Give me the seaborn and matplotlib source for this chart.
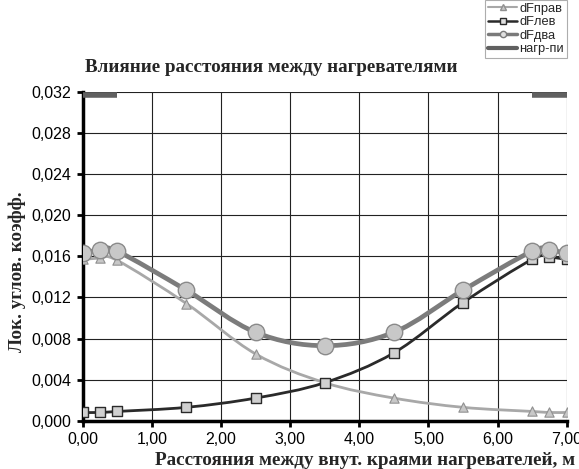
import numpy as np
import matplotlib
matplotlib.use("Agg")
import matplotlib.pyplot as plt
import seaborn as sns
from matplotlib.path import Path
from matplotlib.patches import PathPatch
from matplotlib.lines import Line2D
from matplotlib.ticker import FuncFormatter

# Данные
x_pos = [0.0, 0.25, 0.5, 1.5, 2.5, 3.5, 4.5, 5.5, 6.5, 6.75, 7.0]
dF_prav = [0.0157, 0.0158, 0.0156, 0.0114, 0.0065, 0.0037, 0.0022, 0.0013, 0.0009, 0.0008, 0.0008]
dF_lev = [0.0008, 0.0008, 0.0009, 0.0013, 0.0022, 0.0037, 0.0066, 0.0115, 0.0157, 0.0159, 0.0157]
dF_dva = [0.0163, 0.0166, 0.0165, 0.0127, 0.0086, 0.0073, 0.0086, 0.0127, 0.0165, 0.0166, 0.0163]
nagr_levy = [0.0, 0.5]
nagr_pravy = [6.5, 7.0]
nagr_y = 0.0317

sns.set_theme(style="white")
plt.rcParams['font.family'] = ['Liberation Sans', 'DejaVu Sans']


def gladkayaLiniya(ax, xs, ys, **kw):
    # сглаженная линия как в Excel (кривые Безье через точки)
    pts = np.column_stack([xs, ys])
    n = len(pts)
    verts = [pts[0]]
    codes = [Path.MOVETO]
    for i in range(n - 1):
        p0 = pts[max(i - 1, 0)]
        p1 = pts[i]
        p2 = pts[i + 1]
        p3 = pts[min(i + 2, n - 1)]
        c1 = p1 + (p2 - p0) / 6.0
        c2 = p2 - (p3 - p1) / 6.0
        verts += [c1, c2, p2]
        codes += [Path.CURVE4] * 3
    ax.add_patch(PathPatch(Path(verts, codes), fill=False, capstyle='round', **kw))


fig = plt.figure(figsize=(5.79, 4.69), dpi=100)
ax = fig.add_axes([0.1428, 0.103, 0.836, 0.701])

# нагреватели
ax.plot(nagr_levy, [nagr_y, nagr_y], color='#606060', lw=4, solid_capstyle='butt', zorder=3)
ax.plot(nagr_pravy, [nagr_y, nagr_y], color='#606060', lw=4, solid_capstyle='butt', zorder=3)

gladkayaLiniya(ax, x_pos, dF_prav, edgecolor='#a8a8a8', lw=2.0, zorder=3)
gladkayaLiniya(ax, x_pos, dF_lev, edgecolor='#2a2a2a', lw=2.0, zorder=4)
gladkayaLiniya(ax, x_pos, dF_dva, edgecolor='#7c7c7c', lw=3.4, zorder=5)

sns.scatterplot(x=x_pos, y=dF_prav, marker='^', s=45, color='#c8c8c8',
                edgecolor='#909090', linewidth=0.8, ax=ax, zorder=6, legend=False)
sns.scatterplot(x=x_pos, y=dF_lev, marker='s', s=55, color='#d0d0d0',
                edgecolor='#2a2a2a', linewidth=1.0, ax=ax, zorder=6, legend=False)
sns.scatterplot(x=x_pos, y=dF_dva, marker='o', s=140, color='#c8c8c8',
                edgecolor='#8a8a8a', linewidth=1.0, ax=ax, zorder=7, legend=False)

ax.set_xlim(0, 7)
ax.set_ylim(0, 0.032)
ax.set_xticks(np.arange(0, 7.01, 1.0))
ax.set_yticks(np.arange(0, 0.0321, 0.004))
ax.xaxis.set_major_formatter(FuncFormatter(lambda v, p: f"{v:.2f}".replace('.', ',')))
ax.yaxis.set_major_formatter(FuncFormatter(lambda v, p: f"{v:.3f}".replace('.', ',')))
ax.grid(True, color='#222222', lw=0.8)
ax.set_axisbelow(True)
for s in ['top', 'right']:
    ax.spines[s].set_visible(False)
for s in ['left', 'bottom']:
    ax.spines[s].set_color('black')
    ax.spines[s].set_linewidth(2.5)
ax.tick_params(axis='both', which='major', direction='out', length=4, width=2,
               color='black', labelsize=11.5, labelcolor='black', bottom=True, left=True, pad=4)
ax.set_xlabel('')
ax.set_ylabel('')

serif = ['Liberation Serif', 'DejaVu Serif']
fig.text(0.469, 0.857, 'Влияние расстояния между нагревателями', ha='center', va='center',
         fontsize=13.8, fontweight='bold', family=serif)
fig.text(0.029, 0.42, 'Лок. углов. коэфф.', ha='center', va='center', rotation=90,
         fontsize=13.7, fontweight='bold', family=serif)
fig.text(0.994, 0.019, 'Расстояния между внут. краями нагревателей, м', ha='right', va='center',
         fontsize=13.8, fontweight='bold', family=serif)

handles = [
    Line2D([], [], color='#a8a8a8', lw=1.5, marker='^', ms=4, mfc='#c8c8c8', mec='#909090'),
    Line2D([], [], color='#2a2a2a', lw=1.8, marker='s', ms=4.5, mfc='#e0e0e0', mec='#2a2a2a'),
    Line2D([], [], color='#7a7a7a', lw=2.5, marker='o', ms=4.5, mfc='#e0e0e0', mec='#7a7a7a'),
    Line2D([], [], color='#606060', lw=3),
]
leg = fig.legend(handles, ['dFправ', 'dFлев', 'dFдва', 'нагр-пи'], loc='upper left',
                 bbox_to_anchor=(0.838, 1.0), fontsize=9.3, frameon=True, fancybox=False,
                 handlelength=2.3, handletextpad=0.15, labelspacing=0.12, borderpad=0.2,
                 borderaxespad=0)
leg.get_frame().set_edgecolor('#999999')
leg.get_frame().set_linewidth(0.8)

fig.savefig('out.png', dpi=100)
